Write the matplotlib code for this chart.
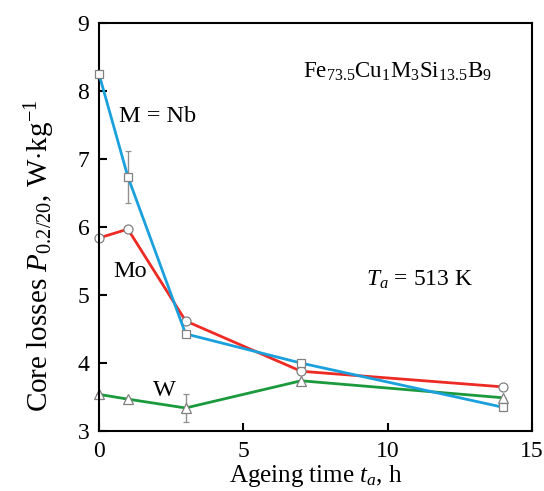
import matplotlib
matplotlib.use("Agg")
import matplotlib.pyplot as plt

plt.rcParams['font.family'] = ['Liberation Serif', 'DejaVu Serif']
plt.rcParams['mathtext.fontset'] = 'custom'
plt.rcParams['mathtext.rm'] = 'Liberation Serif'
plt.rcParams['mathtext.it'] = 'Liberation Serif:italic'

# ageing times, h
t_nb = [0, 1, 3, 7, 14]
t_mo = [0, 1, 3, 7, 14]
t_w = [0, 1, 3, 7, 14]

# core losses, W/kg
nb = [8.25, 6.74, 4.43, 4.00, 3.35]
mo = [5.84, 5.97, 4.62, 3.88, 3.65]
w = [3.54, 3.47, 3.34, 3.74, 3.49]

# error bars (only at a few points)
nb_err = [0, 0.38, 0, 0, 0]
w_err = [0, 0, 0.21, 0, 0]

fig = plt.figure(figsize=(5.44, 4.91), dpi=100)
ax = fig.add_axes([0.182, 0.122, 0.796, 0.831])

mk = dict(markerfacecolor='white', markeredgecolor='#808080', markeredgewidth=0.9)

ax.errorbar(t_nb, nb, yerr=nb_err, color='#1aa0dc', lw=2, marker='s', markersize=5.5,
            ecolor='#909090', elinewidth=1, capsize=2.5, zorder=3, clip_on=False, **mk)
ax.errorbar(t_mo, mo, color='#ee2a24', lw=2, marker='o', markersize=6.5,
            zorder=2, clip_on=False, **mk)
ax.errorbar(t_w, w, yerr=w_err, color='#1a9a3c', lw=2, marker='^', markersize=6.5,
            ecolor='#909090', elinewidth=1, capsize=2.5, zorder=2, clip_on=False, **mk)

ax.set_xlim(0, 15)
ax.set_ylim(3, 9)
ax.set_xticks([0, 5, 10, 15])
ax.set_yticks([3, 4, 5, 6, 7, 8, 9])
ax.tick_params(direction='in', labelsize=17, length=6, width=1.5, pad=7)
for s in ax.spines.values():
    s.set_linewidth(1.5)

ax.set_xlabel('Ageing time $t_a$, h', fontsize=18, labelpad=1)
ax.set_ylabel('Core losses $P_{0.2/20}$, W$\\cdot$kg$^{-1}$', fontsize=21)
ax.yaxis.set_label_coords(-0.098, 0.43)

ax.text(10.35, 8.28, 'Fe$_{73.5}$Cu$_1$M$_3$Si$_{13.5}$B$_9$', fontsize=16.5, ha='center', va='center')
ax.text(0.7, 7.62, 'M = Nb', fontsize=17.5, ha='left', va='center')
ax.text(0.48, 5.34, 'Mo', fontsize=17.5, ha='left', va='center')
ax.text(1.87, 3.6, 'W', fontsize=17.5, ha='left', va='center')
ax.text(9.24, 5.22, '$T_a$ = 513 K', fontsize=17, ha='left', va='center')

fig.savefig('out.png', dpi=100)
